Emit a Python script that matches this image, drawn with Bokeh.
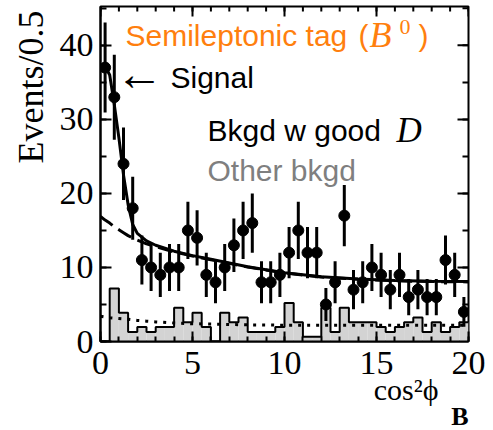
import numpy as np
from bokeh.plotting import figure
from bokeh.models import Range1d, LinearAxis, SingleIntervalTicker, Label, Title
from bokeh.embed import file_html
from bokeh.resources import INLINE

# ---- data ----
bin_width = 0.5
x_lo, x_hi = 0.0, 20.0
y_lo, y_hi = 0.0, 45.25
counts = [37, 33, 24, 18, 11, 10, 9, 10, 10, 15,
          14, 9, 8, 10, 13, 15, 16, 8, 8, 9,
          12, 15, 12, 12, 5, 8, 17, 7, 8, 10,
          9, 7, 9, 6, 7, 6, 6, 11, 9, 4]
other_bkgd = [0, 7.15, 3.9, 1.3, 1.95, 1.3, 1.95, 1.95, 4.55, 2.6,
              3.9, 1.95, 0, 3.9, 2.6, 3.25, 1.3, 1.3, 1.3, 1.95,
              5.2, 2.6, 0.65, 0.65, 4.55, 1.3, 4.55, 2.6, 2.6, 2.6,
              1.95, 1.3, 1.95, 2.6, 3.25, 1.3, 2.6, 1.3, 1.95, 2.6]
fit_x = [0, 0.25, 0.5, 0.75, 1.0, 1.25, 1.5, 1.75, 2, 2.5, 3, 4, 5, 6, 7, 8, 10, 12, 14, 16, 18, 20]
fit_total = [36.5, 37.2, 36.0, 32.0, 27.5, 22.5, 18.5, 15.8, 14.6, 13.6, 13.0, 12.2, 11.6, 11.1,
             10.6, 10.1, 9.3, 8.75, 8.45, 8.25, 8.15, 8.1]
fit_bkgd = [16.9, 16.4, 16.0, 15.5, 15.1, 14.7, 14.3, 14.0, 13.7, 13.2, 12.8, 12.1, 11.55, 11.05,
            10.55, 10.05, 9.25, 8.7, 8.4, 8.2, 8.1, 8.05]
fit_other = [3.4, 3.3, 3.2, 3.15, 3.1, 3.05, 3.0, 2.92, 2.85, 2.75, 2.65, 2.5, 2.4, 2.35,
             2.3, 2.25, 2.2, 2.2, 2.2, 2.2, 2.2, 2.2]
x_major_step, x_minor_step = 5, 1
y_major_step, y_minor_step = 10, 5

# ---- layout (page pixels) ----
W, H = 493, 430
FL, FR, FT, FB = 100, 468, 6, 342
sx_per = (FR - FL) / (x_hi - x_lo)
sy_per = (FB - FT) / (y_hi - y_lo)

edges = np.arange(len(counts) + 1) * bin_width + x_lo
centers = edges[:-1] + bin_width / 2
counts_a = np.array(counts, dtype=float)
err = np.sqrt(counts_a)

p = figure(width=W, height=H, output_backend="svg", toolbar_location=None,
           x_range=Range1d(x_lo, x_hi), y_range=Range1d(y_lo, y_hi),
           min_border_left=FL, min_border_right=W - FR, min_border_top=FT,
           min_border_bottom=H - FB,
           x_axis_type=None, y_axis_type=None)
p.grid.visible = False
p.outline_line_color = "black"
p.outline_line_width = 2
p.background_fill_color = "white"
p.border_fill_color = "white"

def style_axis(ax, major_in, minor_in, standoff):
    ax.major_tick_in = major_in
    ax.major_tick_out = 0
    ax.minor_tick_in = minor_in
    ax.minor_tick_out = 0
    ax.major_tick_line_width = 2
    ax.minor_tick_line_width = 2
    ax.axis_line_width = 2
    ax.axis_line_color = "black"
    ax.major_label_text_font = "Liberation Serif"
    ax.major_label_text_font_size = "34px"
    ax.major_label_text_color = "black"
    ax.major_label_standoff = standoff

xt = SingleIntervalTicker(interval=x_major_step, num_minor_ticks=x_major_step // x_minor_step)
yt = SingleIntervalTicker(interval=y_major_step, num_minor_ticks=y_major_step // y_minor_step)

xb = LinearAxis(ticker=xt)
style_axis(xb, 10, 5, 10)
p.add_layout(xb, "below")
p.add_layout(Title(text="cos\u00b2\u03d5", align="right", offset=30, standoff=-12,
                   text_font="Liberation Serif", text_font_size="30px",
                   text_font_style="normal", text_color="black"), "below")
p.add_layout(Title(text="B", align="right", offset=0, standoff=0,
                   text_font="Liberation Serif", text_font_size="26px",
                   text_font_style="bold", text_color="black"), "below")

yl = LinearAxis(ticker=yt)
style_axis(yl, 11, 6, 7)
p.add_layout(yl, "left")
p.add_layout(Title(text="Events/0.5", align="right", offset=4, standoff=12,
                   text_font="Liberation Serif", text_font_size="36px",
                   text_font_style="normal", text_color="black"), "left")

# mirrored ticks on top and right edges (inside the frame)
x_major = np.arange(x_lo, x_hi + 1e-9, x_major_step)
x_minor = np.arange(x_lo, x_hi + 1e-9, x_minor_step)
y_major = np.arange(y_lo, y_hi + 1e-9, y_major_step)
y_minor = np.arange(y_lo, y_hi + 1e-9, y_minor_step)
p.segment(x0=x_minor, y0=y_hi, x1=x_minor, y1=y_hi - 5 / sy_per, line_color="black", line_width=2)
p.segment(x0=x_major, y0=y_hi, x1=x_major, y1=y_hi - 10 / sy_per, line_color="black", line_width=2)
p.segment(x0=x_hi, y0=y_minor, x1=x_hi - 6 / sx_per, y1=y_minor, line_color="black", line_width=2)
p.segment(x0=x_hi, y0=y_major, x1=x_hi - 11 / sx_per, y1=y_major, line_color="black", line_width=2)

# other background histogram
p.quad(left=edges[:-1], right=edges[1:], bottom=0, top=other_bkgd,
       fill_color="#d3d3d3", line_color=None)
p.step(x=list(edges), y=other_bkgd + [other_bkgd[-1]], mode="after",
       line_color="black", line_width=2)

# fit curves
p.line(fit_x, fit_other, line_color="black", line_width=3, line_dash="3 6")
p.line(fit_x, fit_bkgd, line_color="black", line_width=3, line_dash="15 7")
p.line(fit_x, fit_total, line_color="black", line_width=3)

# data points
p.segment(x0=centers, y0=counts_a - err, x1=centers, y1=counts_a + err,
          line_color="black", line_width=3)
p.scatter(centers, counts_a, size=11, marker="circle", fill_color="black", line_color="black")

BASE_SHIFT = 10  # labels render a little below the requested baseline

def dx(px):
    return x_lo + (px - FL) / sx_per

def dy(py):
    return y_lo + (FB - (py - BASE_SHIFT)) / sy_per

def lab(text, px, py, font, size, color="black", style="normal"):
    p.add_layout(Label(x=dx(px), y=dy(py), text=text, text_font=font,
                       text_font_size=f"{size}px", text_color=color, text_font_style=style,
                       text_align="left", text_baseline="alphabetic"))

orange = "#ff7f0e"
lab("Semileptonic tag", 125, 45, "Liberation Sans", 30, orange)
lab("(", 358, 45, "Liberation Sans", 30, orange)
lab("B", 369, 45, "Liberation Serif", 36, orange, "italic")
lab("0", 399, 37, "Liberation Serif", 22, orange)
lab(")", 418, 45, "Liberation Sans", 30, orange)

lab("\u2190", 115, 83, "Liberation Serif", 48)
lab("Signal", 170, 87, "Liberation Sans", 30)

lab("Bkgd w good", 207, 140, "Liberation Sans", 30)
lab("D", 396, 140, "Liberation Serif", 35, "black", "italic")
lab("Other bkgd", 207, 180, "Liberation Sans", 30, "#7f7f7f")

open("out.html", "w").write(file_html(p, INLINE))
